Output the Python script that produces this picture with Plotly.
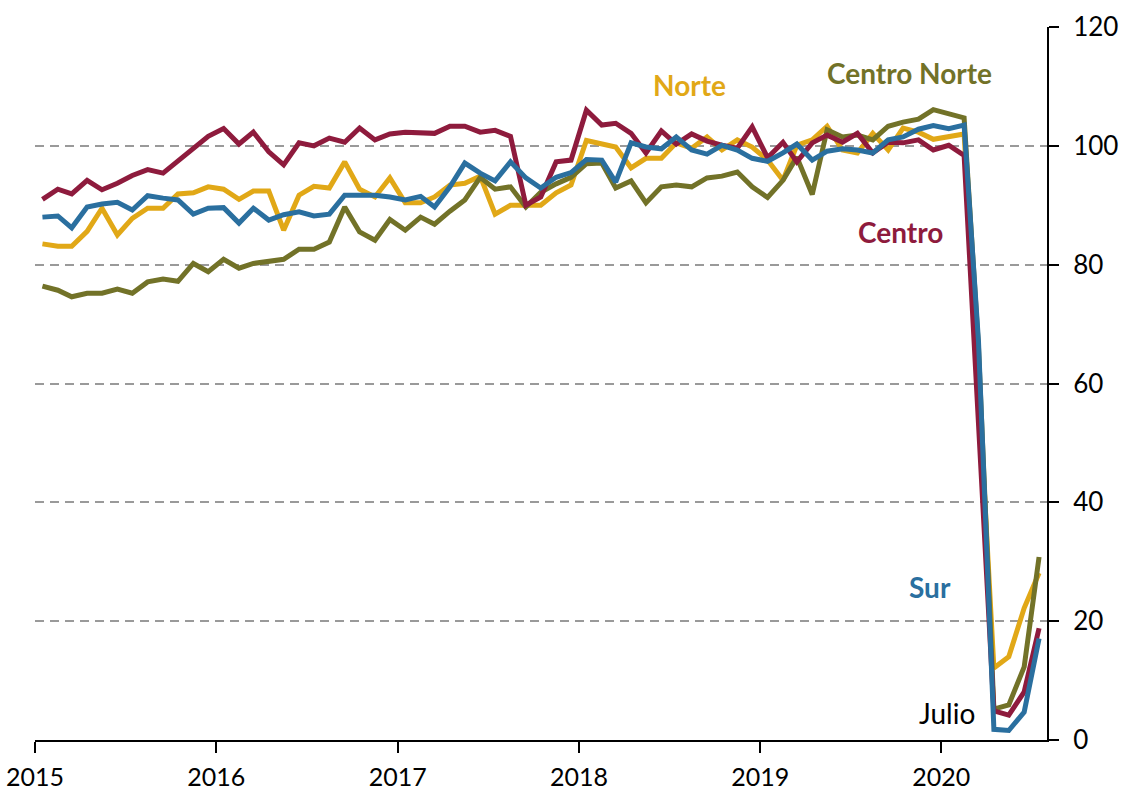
import pandas as pd
import plotly.graph_objects as go

# Monthly index values, Jan 2015 - Jul 2020
start_month = "2015-01-01"
n_months = 67
months = pd.date_range(start_month, periods=n_months, freq="MS") + pd.Timedelta(days=15)

norte = [83.5, 83.1, 83.1, 85.6, 89.5, 85.0, 87.8, 89.5, 89.5, 91.9, 92.1, 93.1,
         92.7, 91.0, 92.4, 92.4, 85.8, 91.7, 93.2, 92.9, 97.3, 92.7, 91.4, 94.6,
         90.4, 90.4, 91.4, 93.4, 93.7, 94.9, 88.5, 90.0, 90.0, 90.0, 92.1, 93.4,
         100.9, 100.3, 99.8, 96.3, 97.9, 97.9, 100.5, 99.6, 101.5, 99.3, 101.0, 99.8,
         97.6, 94.2, 100.1, 101.0, 103.3, 99.3, 98.8, 102.1, 99.3, 103.0, 102.3, 101.1,
         101.5, 102.0, 60.0, 12.1, 14.0, 22.2, 28.1]

centro_norte = [76.4, 75.7, 74.6, 75.2, 75.2, 75.9, 75.2, 77.1, 77.6, 77.2, 80.2, 78.8,
                80.9, 79.4, 80.2, 80.6, 80.9, 82.6, 82.6, 83.8, 89.7, 85.5, 84.1, 87.6,
                85.8, 88.0, 86.8, 89.0, 90.9, 94.7, 92.7, 93.1, 89.7, 92.2, 93.6, 94.7,
                97.0, 97.1, 92.9, 94.1, 90.4, 93.1, 93.4, 93.1, 94.6, 94.9, 95.6, 93.1,
                91.3, 94.2, 98.1, 91.8, 102.7, 101.5, 101.8, 101.0, 103.3, 104.0, 104.5, 106.1,
                105.4, 104.7, 66.0, 5.2, 5.9, 12.3, 30.8]

centro = [91.0, 92.7, 91.9, 94.2, 92.6, 93.7, 95.0, 96.0, 95.4, 97.5, 99.4, 101.6,
          102.9, 100.3, 102.3, 99.0, 96.8, 100.5, 100.0, 101.3, 100.6, 103.0, 101.0, 102.0,
          102.3, 102.3, 102.1, 103.3, 103.3, 102.3, 102.6, 101.6, 90.0, 91.4, 97.3, 97.6,
          106.0, 103.5, 103.8, 102.1, 98.8, 102.5, 100.3, 102.0, 100.8, 100.1, 99.6, 103.2,
          98.0, 100.6, 97.3, 100.5, 101.8, 100.6, 102.1, 98.8, 100.6, 100.5, 101.0, 99.3,
          100.1, 98.4, 52.0, 4.9, 4.2, 8.1, 18.8]

sur = [88.0, 88.2, 86.2, 89.7, 90.2, 90.5, 89.2, 91.6, 91.2, 90.9, 88.5, 89.5,
       89.6, 87.0, 89.5, 87.5, 88.4, 88.9, 88.2, 88.5, 91.7, 91.7, 91.7, 91.4,
       90.9, 91.5, 89.7, 93.1, 97.1, 95.4, 94.1, 97.3, 94.6, 92.9, 94.7, 95.5,
       97.7, 97.6, 93.9, 100.5, 99.8, 99.5, 101.5, 99.3, 98.6, 100.1, 99.3, 97.9,
       97.4, 98.8, 100.3, 97.6, 99.1, 99.5, 99.3, 98.8, 101.0, 101.5, 102.8, 103.4,
       102.9, 103.5, 67.0, 1.8, 1.6, 4.7, 17.1]

year_ticks = ["2015", "2016", "2017", "2018", "2019", "2020"]
y_ticks = [0, 20, 40, 60, 80, 100, 120]

series = [
    ("Norte", norte, "#E1A817"),
    ("Centro Norte", centro_norte, "#727228"),
    ("Centro", centro, "#8E1B3D"),
    ("Sur", sur, "#2A6F9F"),
]

fig = go.Figure()
for name, vals, color in series:
    fig.add_trace(go.Scatter(x=months, y=vals, mode="lines", name=name,
                             line=dict(color=color, width=5)))

FONT = "Lato"
label_specs = [
    ("Norte", "#E1A817", 0.647, 0.919, True),
    ("Centro Norte", "#727228", 0.864, 0.935, True),
    ("Centro", "#8E1B3D", 0.855, 0.712, True),
    ("Sur", "#2A6F9F", 0.884, 0.214, True),
    ("Julio", "#000000", 0.901, 0.038, False),
]
for text, color, px, py, bold in label_specs:
    fig.add_annotation(x=px, y=py, xref="paper", yref="paper", text=text,
                       showarrow=False, xanchor="center", yanchor="middle",
                       font=dict(family=FONT, size=28, color=color,
                                 weight="bold" if bold else "normal"))

fig.update_layout(
    width=1130, height=791,
    margin=dict(l=35, r=83, t=27, b=51, autoexpand=False),
    paper_bgcolor="white", plot_bgcolor="white",
    showlegend=False,
    font=dict(family=FONT, size=26, color="black"),
)
fig.update_xaxes(
    type="date",
    range=["2015-01-01", "2020-08-01"],
    tickvals=[f"{y}-01-01" for y in year_ticks],
    ticktext=year_ticks,
    ticks="outside", ticklen=11, tickwidth=2, tickcolor="black",
    showline=True, linecolor="black", linewidth=2,
    showgrid=False, zeroline=False, automargin=False,
    tickfont=dict(family=FONT, size=25, color="black"),
    ticklabelstandoff=3,
)
fig.update_yaxes(
    side="right",
    range=[0, 120],
    tickvals=y_ticks,
    ticks="outside", ticklen=10, tickwidth=2, tickcolor="black",
    showline=True, linecolor="black", linewidth=2,
    showgrid=True, gridcolor="#9a9a9a", gridwidth=2, griddash="9px,6px",
    zeroline=False, automargin=False,
    tickfont=dict(family=FONT, size=26, color="black"),
    ticklabelstandoff=9,
)

fig.write_html("out.html",
               config={"displayModeBar": False},
               post_script="document.body.style.margin='0';document.body.style.padding='0';")
